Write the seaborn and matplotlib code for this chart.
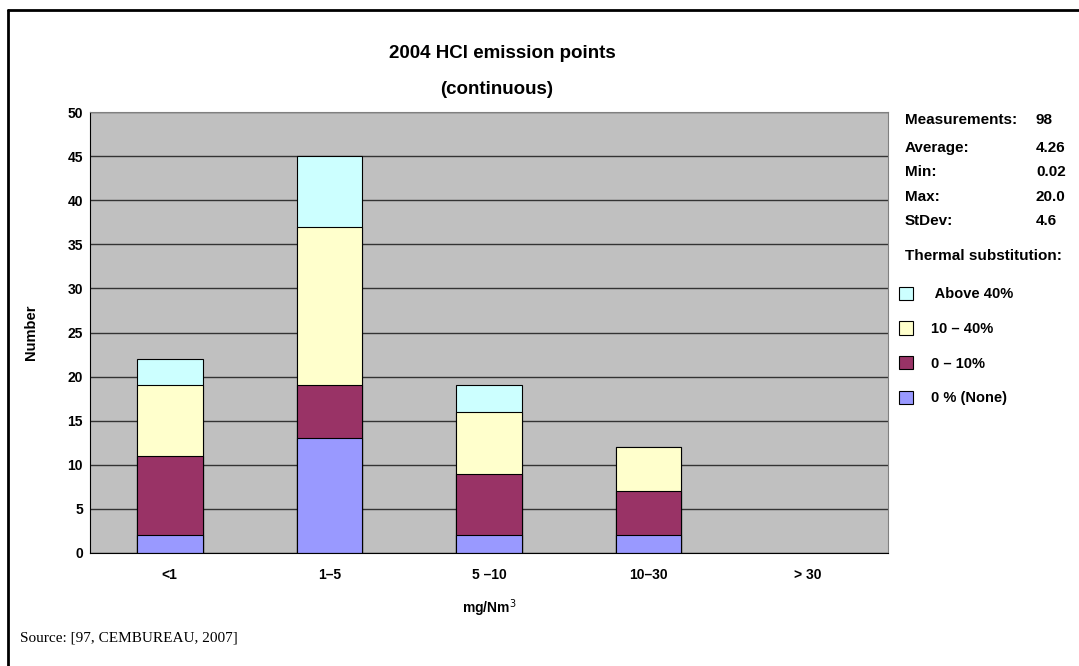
import matplotlib
matplotlib.use("Agg")
from matplotlib import pyplot as plt
from matplotlib.patches import Patch
from matplotlib.lines import Line2D
import numpy as np
import pandas as pd
import seaborn as sns

# data
categories = ["<1", "1\u20135", "5 \u201310", "10\u201330", "> 30"]
none_0 = [2, 13, 2, 2, 0]
sub_0_10 = [9, 6, 7, 5, 0]
sub_10_40 = [8, 18, 7, 5, 0]
above_40 = [3, 8, 3, 0, 0]

series_names = ["0 % (None)", "0 \u2013 10%", "10 \u2013 40%", " Above 40%"]
series_colors = ["#9999FF", "#993366", "#FFFFCC", "#CCFFFF"]

stats_labels = ["Measurements:", "Average:", "Min:", "Max:", "StDev:"]
stats_values = ["98", "4.26", "0.02", "20.0", "4.6"]

sns.set_style("white")
plt.rcParams["font.family"] = ["Liberation Sans", "DejaVu Sans"]
plt.rcParams["text.color"] = "black"
plt.rcParams["axes.labelcolor"] = "black"
plt.rcParams["xtick.color"] = "black"
plt.rcParams["ytick.color"] = "black"

W, H = 1079, 666
fig = plt.figure(figsize=(W / 100, H / 100), dpi=100)
ax = fig.add_axes([90 / W, 1 - 553 / H, (888 - 90) / W, (553 - 112) / H])
ax.set_facecolor("#C0C0C0")

# stacked bars: draw cumulative totals, biggest first
stack = np.array([none_0, sub_0_10, sub_10_40, above_40])
cum = np.cumsum(stack, axis=0)
for i in range(3, -1, -1):
    df = pd.DataFrame({"cat": categories, "val": cum[i]})
    sns.barplot(data=df, x="cat", y="val", color=series_colors[i], width=0.41,
                edgecolor="black", linewidth=0.8, ax=ax, saturation=1)
# hide empty bars (> 30 group)
for p in ax.patches:
    if p.get_height() == 0:
        p.set_visible(False)

ax.set_ylim(0, 50)
ax.set_yticks(np.arange(0, 51, 5))
ax.yaxis.grid(True, color="#333333", linewidth=1)
ax.set_axisbelow(True)
ax.set_xlim(-0.5, 4.5)
ax.set_xticks(np.arange(-0.5, 5, 1), minor=True)
ax.set_xticks(range(5))
ax.set_xticklabels(categories)
ax.tick_params(axis="x", which="major", length=0, pad=11)
ax.tick_params(axis="x", which="minor", length=5, color="black", direction="out")
ax.tick_params(axis="y", length=4, color="black", direction="out", pad=1)
for lab in ax.get_xticklabels() + ax.get_yticklabels():
    lab.set_fontweight("bold")
    lab.set_fontsize(10)
for side in ["top", "right"]:
    ax.spines[side].set_color("#808080")
for side in ["left", "bottom"]:
    ax.spines[side].set_color("black")
ax.set_xlabel("mg/Nm$^3$", fontsize=10, fontweight="bold")
ax.xaxis.set_label_coords(0.5, -(597 - 553) / 441)
ax.set_ylabel("Number", fontsize=10.5, fontweight="bold")
ax.yaxis.set_label_coords((38 - 90) / 798, 0.5)

fig.text(502 / W, 1 - 53 / H, "2004 HCl emission points", ha="center", va="center",
         fontsize=13.5, fontweight="bold")
fig.text(497 / W, 1 - 89 / H, "(continuous)", ha="center", va="center",
         fontsize=13.5, fontweight="bold")

# stats block
ys = [120, 148, 172, 197, 221]
for lab, val, y in zip(stats_labels, stats_values, ys):
    fig.text(905 / W, 1 - y / H, lab, ha="left", va="center", fontsize=11, fontweight="bold")
    fig.text(1036 / W, 1 - y / H, val, ha="left", va="center", fontsize=11, fontweight="bold")
fig.text(905 / W, 1 - 256 / H, "Thermal substitution:", ha="left", va="center",
         fontsize=11, fontweight="bold")

handles = [Patch(facecolor=series_colors[i], edgecolor="black", linewidth=0.8,
                 label=series_names[i]) for i in range(3, -1, -1)]
leg = fig.legend(handles=handles, loc="upper left", bbox_to_anchor=(893 / W, 1 - 281 / H),
                 frameon=False, fontsize=10.5, labelspacing=1.38, handlelength=1.0,
                 handleheight=1.0, handletextpad=1.2, borderaxespad=0)
for t in leg.get_texts():
    t.set_fontweight("bold")

fig.text(20 / W, 1 - 638 / H, "Source: [97, CEMBUREAU, 2007]", ha="left", va="center",
         fontsize=11, family=["Liberation Serif", "DejaVu Serif"])

# outer frame (top and left edges visible)
fig.add_artist(Line2D([8 / W, 1], [1 - 10 / H, 1 - 10 / H], color="black", linewidth=2,
                      transform=fig.transFigure))
fig.add_artist(Line2D([8 / W, 8 / W], [0, 1 - 10 / H], color="black", linewidth=2,
                      transform=fig.transFigure))

fig.savefig("out.png", dpi=100)
